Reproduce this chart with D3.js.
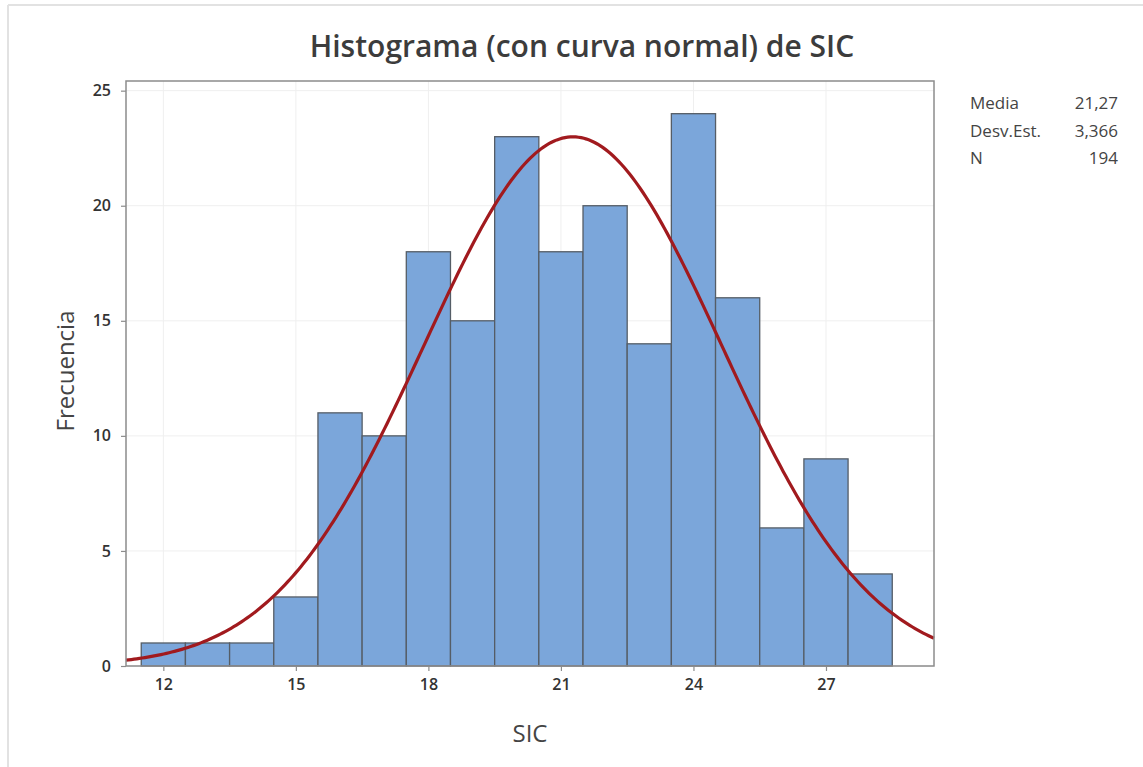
<!DOCTYPE html>
<html lang="es">
<head>
<meta charset="utf-8" />
<title>Histograma de SIC</title>
<script src="https://cdn.jsdelivr.net/npm/d3@7/dist/d3.min.js"></script>
<style>
  body { margin: 0; background: #fff; }
  text { font-family: "Open Sans", "Noto Sans", sans-serif; fill: #333; }
</style>
</head>
<body>
<script>
  // DATA
  var binMids = [12, 13, 14, 15, 16, 17, 18, 19, 20, 21, 22, 23, 24, 25, 26, 27, 28];
  var counts  = [1, 1, 1, 3, 11, 10, 18, 15, 23, 18, 20, 14, 24, 16, 6, 9, 4];
  var xTicks  = [12, 15, 18, 21, 24, 27];
  var yTicks  = [0, 5, 10, 15, 20, 25];
  var statLabels = ["Media", "Desv.Est.", "N"];
  var statValues = ["21,27", "3,366", "194"];
  var mean = 21.27, sd = 3.366, n = 194, binWidth = 1;

  // CONFIG
  var width = 1143, height = 767;
  var plot = {left: 126, top: 81, right: 934, bottom: 666};

  var svg = d3.select("body").append("svg")
      .attr("width", width)
      .attr("height", height);

  // faint panel border (top + left)
  svg.append("line").attr("x1", 8).attr("x2", width).attr("y1", 5).attr("y2", 5)
     .attr("stroke", "#e2e2e2").attr("stroke-width", 2);
  svg.append("line").attr("x1", 8).attr("x2", 8).attr("y1", 5).attr("y2", height)
     .attr("stroke", "#e2e2e2").attr("stroke-width", 2);

  var x = d3.scaleLinear().domain([11.155, 29.445]).range([plot.left, plot.right]);
  var y = d3.scaleLinear().domain([0, 25.42]).range([plot.bottom, plot.top]);

  // gridlines
  var g = svg.append("g");
  g.selectAll(".gx").data(xTicks).enter().append("line")
    .attr("x1", d => x(d)).attr("x2", d => x(d))
    .attr("y1", plot.top).attr("y2", plot.bottom)
    .attr("stroke", "#efefef").attr("stroke-width", 1);
  g.selectAll(".gy").data(yTicks).enter().append("line")
    .attr("x1", plot.left).attr("x2", plot.right)
    .attr("y1", d => y(d)).attr("y2", d => y(d))
    .attr("stroke", "#efefef").attr("stroke-width", 1);

  // bars
  var bins = binMids.map((m, i) => ({mid: m, count: counts[i]}));
  svg.append("g").selectAll("rect").data(bins).enter().append("rect")
    .attr("x", d => x(d.mid - binWidth/2))
    .attr("y", d => y(d.count))
    .attr("width", d => x(d.mid + binWidth/2) - x(d.mid - binWidth/2))
    .attr("height", d => y(0) - y(d.count))
    .attr("fill", "#7BA6DA")
    .attr("stroke", "#555d66")
    .attr("stroke-width", 1.3);

  // normal curve from the stats shown
  var curveXs = d3.range(0, 301).map(i => 11.155 + i*(29.445-11.155)/300);
  var pdf = v => n*binWidth/(sd*Math.sqrt(2*Math.PI))*Math.exp(-0.5*Math.pow((v-mean)/sd, 2));
  svg.append("path")
    .datum(curveXs)
    .attr("fill", "none")
    .attr("stroke", "#A11A1E")
    .attr("stroke-width", 3.2)
    .attr("d", d3.line().x(d => x(d)).y(d => y(pdf(d))));

  // frame
  svg.append("rect")
    .attr("x", plot.left).attr("y", plot.top)
    .attr("width", plot.right - plot.left).attr("height", plot.bottom - plot.top)
    .attr("fill", "none").attr("stroke", "#8c8c8c").attr("stroke-width", 1.5);

  // axes
  var xAxis = svg.append("g")
    .attr("transform", `translate(0,${plot.bottom})`)
    .call(d3.axisBottom(x).tickValues(xTicks).tickSize(5).tickPadding(8));
  var yAxis = svg.append("g")
    .attr("transform", `translate(${plot.left},0)`)
    .call(d3.axisLeft(y).tickValues(yTicks).tickSize(5).tickPadding(10));
  [xAxis, yAxis].forEach(function(a) {
    a.select(".domain").remove();
    a.selectAll(".tick line").attr("stroke", "#8c8c8c").attr("stroke-width", 1.2);
    a.selectAll(".tick text")
      .style("font-family", "'Open Sans', 'Noto Sans', sans-serif")
      .style("font-size", "16px").style("font-weight", 600).attr("fill", "#333");
  });

  // titles
  svg.append("text")
    .attr("x", 582).attr("y", 57)
    .attr("text-anchor", "middle")
    .style("font-size", "30px").style("font-weight", 600).style("fill", "#3c3c3c")
    .text("Histograma (con curva normal) de SIC");

  svg.append("text")
    .attr("x", 530).attr("y", 742)
    .attr("text-anchor", "middle")
    .style("font-size", "24px").style("fill", "#444")
    .text("SIC");

  svg.append("text")
    .attr("transform", "translate(74,371) rotate(-90)")
    .attr("text-anchor", "middle")
    .style("font-size", "24px").style("fill", "#444")
    .text("Frecuencia");

  // stats table
  var st = svg.append("g");
  st.selectAll(".sl").data(statLabels).enter().append("text")
    .attr("x", 970).attr("y", (d, i) => 109 + i*27.5)
    .style("font-size", "17px").style("fill", "#444")
    .text(d => d);
  st.selectAll(".sv").data(statValues).enter().append("text")
    .attr("x", 1118).attr("y", (d, i) => 109 + i*27.5)
    .attr("text-anchor", "end")
    .style("font-size", "17px").style("fill", "#444")
    .text(d => d);
</script>
</body>
</html>
